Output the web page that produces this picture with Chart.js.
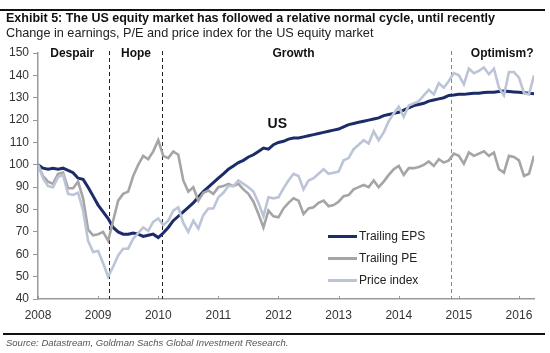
<!DOCTYPE html>
<html>
<head>
<meta charset="utf-8">
<script src="https://cdn.jsdelivr.net/npm/chart.js@4.4.0/dist/chart.umd.min.js"></script>
<style>
body { margin: 0; background: #fff; font-family: "Liberation Sans", Arial, sans-serif; }
#wrap { position: relative; width: 550px; height: 353px; overflow: hidden; }
#chart { position: absolute; left: 0; top: 0; }
.rule { position: absolute; background: #111; }
.txt { position: absolute; white-space: nowrap; line-height: 1; }
#title { left: 6px; top: 12px; font-size: 12.5px; font-weight: bold; color: #111; }
#subtitle { left: 6px; top: 27px; font-size: 12.7px; color: #222; }
#source { left: 6px; top: 338px; font-size: 9.5px; font-style: italic; color: #555; }
#legend { position: absolute; left: 328px; top: 229px; }
.leg { position: relative; height: 22px; }
.leg span.line { position: absolute; left: 0; top: 6px; width: 29px; height: 3px; }
.leg span.lab { position: absolute; left: 31px; top: 0; font-size: 12px; color: #222; white-space: nowrap; }
</style>
</head>
<body>
<div id="wrap">
  <canvas id="chart" width="550" height="353"></canvas>
  <div class="rule" style="left:0;top:9px;width:545px;height:2px;"></div>
  <div id="title" class="txt">Exhibit 5: The US equity market has followed a relative normal cycle, until recently</div>
  <div id="subtitle" class="txt">Change in earnings, P/E and price index for the US equity market</div>
  <div id="legend"></div>
  <div class="rule" style="left:3px;top:333px;width:542px;height:2px;"></div>
  <div id="source" class="txt">Source: Datastream, Goldman Sachs Global Investment Research.</div>
</div>
<script>
// Monthly series, Dec 2007 = 100, one value per month
const startYear = 2008;

const epsValues = [
    100, 98.5, 98, 98.5, 98, 98.5, 97.5, 96.5, 94, 93.5, 90, 86,
    82, 79, 76, 72, 70, 69, 69, 69.5, 69, 68, 68.5, 69,
    67.5, 69.5, 72, 75, 77, 79, 81, 83, 85.5, 88, 90, 92,
    94, 96, 98, 99.5, 101, 102, 103.5, 104.5, 106, 107.5, 107, 109,
    110, 110.5, 111.5, 112, 112, 112.5, 113, 113.5, 114, 114.5, 115, 115.5,
    116, 117, 118, 118.5, 119, 119.5, 120, 120.5, 121, 122, 122.5, 123,
    123.5, 124.5, 125.5, 126.5, 127, 127.5, 128.5, 129, 129.5, 130, 131, 131.2,
    131.5, 131.5, 131.8, 132, 132, 132.3, 132.5, 132.5, 132.8, 133, 132.8, 132.6,
    132.4, 132.2, 132, 131.8
];

const peValues = [
    100, 95, 92.5, 91.5, 96, 96.5, 89.5, 89.5, 92.5, 85, 71, 68.5,
    69, 70, 66, 75, 84, 87, 88, 95, 100, 104, 102.5, 106,
    111, 104, 103, 106, 104.5, 93, 88, 90, 84, 87.5, 88.5, 87,
    90, 90.5, 91.5, 90.5, 91.5, 89, 87, 83.5, 78, 72, 79.5, 77,
    76.5, 80.5, 83, 85, 84, 78, 80.5, 81, 83, 84, 81.5, 82,
    83.5, 86, 86.5, 89, 90, 91, 90, 93, 90, 92.5, 95.5, 98,
    99.5, 95.5, 98.5, 98.5, 99, 100, 101.5, 99.5, 102.5, 101, 102, 105,
    104, 100.5, 105.5, 104, 105, 106, 104, 105.5, 98, 96.5, 104, 103.5,
    102, 95, 96, 104
];

const priceValues = [
    100, 94, 90.5, 90, 94.5, 95.5, 87, 86.5, 87.5, 79.5, 66, 61,
    61.5, 56, 50, 54.5, 59.5, 62.5, 62.5, 67, 69.5, 72, 70.5, 74.5,
    76, 73, 75, 79.5, 81, 74, 70, 75, 71.5, 77.5, 80.5, 80.5,
    85.5, 87.5, 90.5, 90.5, 93, 91.5, 90, 88, 83, 77, 85.5, 85,
    85.5, 89.5, 93, 96, 95, 89, 93, 94, 96, 98, 96, 96.5,
    97, 102, 103, 107, 109, 111, 109.5, 115, 111, 114.5, 119.5, 123,
    126, 121.5, 126.5, 127.5, 128.5, 131, 133.5, 131.5, 136.5, 134.5, 137.5, 141,
    140, 136, 143, 141, 142, 143.5, 140.5, 143, 134.5, 131, 141.5, 141.5,
    139, 132, 131.5, 140
];

const seriesNames = ['Trailing EPS', 'Trailing PE', 'Price index'];
const seriesColors = ['#1d2c68', '#a5a5a5', '#bcc4d7'];

const yearTicks = [2008, 2009, 2010, 2011, 2012, 2013, 2014, 2015, 2016];
const yTicks = [40, 50, 60, 70, 80, 90, 100, 110, 120, 130, 140, 150];

// phase boundaries (dashed lines) and phase names
const phaseBreaks = [2009.18, 2010.07, 2014.87];
const phaseNames = ['Despair', 'Hope', 'Growth', 'Optimism?'];
const phaseLabelAt = [2008.57, 2009.63, 2012.25, 2015.72];

function toPoints(values) {
    return values.map((v, i) => ({ x: startYear + i / 12, y: v }));
}

const phasePlugin = {
    id: 'phases',
    beforeDatasetsDraw(chart) {
        const ctx = chart.ctx;
        const xs = chart.scales.x;
        const area = chart.chartArea;
        ctx.save();
        ctx.lineWidth = 1;
        ctx.setLineDash([4, 3]);
        phaseBreaks.forEach((b, i) => {
            const px = Math.round(xs.getPixelForValue(b)) + 0.5;
            ctx.strokeStyle = i < 2 ? '#222' : '#888';
            ctx.beginPath();
            ctx.moveTo(px, area.top - 2);
            ctx.lineTo(px, area.bottom);
            ctx.stroke();
        });
        ctx.restore();
    },
    afterDraw(chart) {
        const ctx = chart.ctx;
        const xs = chart.scales.x;
        const ys = chart.scales.y;
        const area = chart.chartArea;
        ctx.save();
        ctx.fillStyle = '#111';
        ctx.font = 'bold 12px "Liberation Sans", Arial, sans-serif';
        ctx.textAlign = 'center';
        ctx.textBaseline = 'middle';
        phaseNames.forEach((name, i) => {
            ctx.fillText(name, xs.getPixelForValue(phaseLabelAt[i]), area.top + 1);
        });
        ctx.font = 'bold 14px "Liberation Sans", Arial, sans-serif';
        ctx.fillText('US', xs.getPixelForValue(2011.98), ys.getPixelForValue(118));

        // small inward ticks on the x axis
        ctx.strokeStyle = '#999';
        ctx.lineWidth = 1;
        yearTicks.forEach(t => {
            const px = Math.round(xs.getPixelForValue(t)) + 0.5;
            ctx.beginPath();
            ctx.moveTo(px, area.bottom);
            ctx.lineTo(px, area.bottom - 3);
            ctx.stroke();
        });
        ctx.restore();
    }
};

const datasets = [epsValues, peValues, priceValues].map((vals, i) => ({
    label: seriesNames[i],
    data: toPoints(vals),
    borderColor: seriesColors[i],
    borderWidth: i === 0 ? 3 : 2.6,
    pointRadius: 0,
    tension: 0,
    order: 2 - i
}));

new Chart(document.getElementById('chart'), {
    type: 'line',
    data: { datasets: datasets },
    options: {
        responsive: false,
        animation: false,
        layout: { padding: { top: 53, right: 16, bottom: 24, left: 0 } },
        plugins: { legend: { display: false }, tooltip: { enabled: false } },
        scales: {
            x: {
                type: 'linear',
                min: startYear,
                max: startYear + (epsValues.length - 1) / 12,
                afterBuildTicks: axis => { axis.ticks = yearTicks.map(v => ({ value: v })); },
                afterFit: axis => { axis.height = 30; },
                grid: { drawOnChartArea: false, drawTicks: false },
                border: { color: '#999', width: 1.5 },
                ticks: {
                    padding: 9,
                    color: '#333',
                    font: { family: '"Liberation Sans", Arial, sans-serif', size: 12 },
                    callback: v => String(v)
                }
            },
            y: {
                min: 40,
                max: 150,
                afterBuildTicks: axis => { axis.ticks = yTicks.map(v => ({ value: v })); },
                afterFit: axis => { axis.width = 38; },
                grid: { drawOnChartArea: false, drawTicks: true, tickLength: 5, color: '#999' },
                border: { color: '#999', width: 1.5 },
                ticks: {
                    padding: 4,
                    color: '#333',
                    font: { family: '"Liberation Sans", Arial, sans-serif', size: 12 }
                }
            }
        }
    },
    plugins: [phasePlugin]
});

// legend built from the series names and colours
document.getElementById('legend').innerHTML = seriesNames.map((name, i) => `
    <div class="leg">
        <span class="line" style="background:${seriesColors[i]}"></span>
        <span class="lab">${name}</span>
    </div>
`).join('');
</script>
</body>
</html>
